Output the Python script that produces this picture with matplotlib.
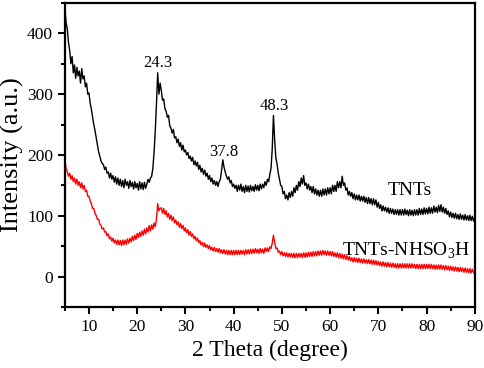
import numpy as np
import matplotlib
matplotlib.use("Agg")
import matplotlib.pyplot as plt
from matplotlib.ticker import MultipleLocator

plt.rcParams['font.family'] = ['Liberation Serif', 'DejaVu Serif']
plt.rcParams['mathtext.fontset'] = 'custom'
plt.rcParams['mathtext.rm'] = 'Liberation Serif'

# 2 theta grid, 0.25 degree step from 5 to 90
two_theta = np.arange(5, 90.001, 0.25)

# TNTs intensity, one row per degree (5, 5.25, 5.5, 5.75 ...)
tnts = [
    442, 418, 408, 385,
    372, 350, 362, 335,
    348, 326, 344, 330,
    338, 318, 342, 325,
    330, 312, 318, 300,
    302, 285, 275, 262,
    250, 240, 228, 215,
    205, 198, 190, 186,
    184, 176, 180, 170,
    172, 162, 170, 160,
    166, 155, 164, 152,
    162, 150, 160, 148,
    158, 146, 160, 150,
    156, 145, 158, 148,
    155, 144, 156, 146,
    153, 142, 156, 144,
    154, 143, 155, 145,
    152, 160, 155, 162,
    165, 178, 205, 240,
    285, 335, 300, 318,
    306, 290, 292, 276,
    272, 262, 265, 248,
    244, 236, 242, 228,
    230, 220, 226, 214,
    220, 208, 216, 205,
    208, 200, 204, 194,
    198, 190, 196, 184,
    190, 182, 188, 176,
    183, 172, 178, 168,
    175, 165, 170, 160,
    166, 156, 162, 152,
    158, 150, 156, 148,
    156, 160, 175, 192,
    180, 172, 165, 160,
    164, 154, 158, 148,
    152, 145, 150, 140,
    150, 142, 152, 140,
    148, 138, 150, 140,
    149, 139, 150, 141,
    148, 140, 151, 142,
    150, 141, 152, 144,
    152, 146, 156, 150,
    160, 156, 168, 178,
    210, 265, 225, 195,
    185, 170, 160, 150,
    148, 136, 140, 128,
    134, 126, 138, 130,
    140, 132, 146, 138,
    150, 142, 156, 148,
    162, 152, 166, 150,
    154, 144, 152, 142,
    148, 138, 148, 136,
    144, 134, 142, 132,
    142, 132, 144, 134,
    144, 134, 146, 136,
    146, 136, 150, 140,
    150, 140, 156, 146,
    156, 146, 165, 150,
    154, 142, 146, 134,
    140, 132, 138, 128,
    136, 126, 134, 126,
    134, 124, 132, 124,
    132, 122, 130, 120,
    130, 120, 128, 118,
    128, 118, 126, 114,
    122, 112, 118, 108,
    116, 108, 114, 106,
    113, 104, 112, 104,
    111, 102, 110, 102,
    110, 101, 110, 101,
    110, 101, 111, 102,
    109, 100, 110, 101,
    109, 100, 110, 101,
    110, 101, 112, 102,
    111, 102, 113, 103,
    112, 103, 114, 104,
    113, 104, 116, 106,
    114, 105, 117, 107,
    118, 106, 114, 104,
    112, 102, 108, 98,
    106, 97, 104, 96,
    104, 95, 102, 94,
    103, 94, 101, 93,
    102, 93, 100, 92,
    101, 92, 99, 91,
    97,
]

# TNTs-NHSO3H intensity, same grid
tnts_so3h = [
    192, 178, 172, 165,
    170, 160, 166, 156,
    162, 152, 160, 150,
    156, 146, 154, 144,
    150, 140, 142, 132,
    132, 124, 120, 112,
    112, 104, 100, 94,
    94, 86, 84, 78,
    80, 73, 74, 67,
    70, 62, 65, 58,
    63, 55, 60, 53,
    60, 52, 59, 51,
    60, 52, 60, 53,
    62, 55, 63, 57,
    66, 59, 68, 61,
    71, 64, 73, 66,
    75, 68, 78, 70,
    80, 73, 84, 75,
    85, 78, 88, 82,
    95, 120, 108, 112,
    113, 104, 112, 102,
    108, 98, 104, 94,
    101, 92, 98, 88,
    93, 85, 90, 81,
    87, 79, 84, 75,
    80, 72, 77, 68,
    74, 66, 70, 62,
    66, 59, 63, 56,
    59, 52, 56, 49,
    55, 48, 52, 46,
    51, 44, 48, 42,
    48, 41, 46, 40,
    46, 39, 44, 38,
    44, 37, 43, 36,
    43, 36, 43, 36,
    43, 36, 43, 36,
    43, 36, 43, 37,
    43, 36, 44, 37,
    44, 37, 45, 38,
    45, 38, 46, 39,
    45, 38, 46, 39,
    45, 38, 47, 41,
    47, 41, 49, 46,
    55, 68, 56, 46,
    47, 40, 42, 36,
    41, 34, 39, 33,
    39, 32, 38, 32,
    38, 31, 38, 31,
    38, 31, 38, 32,
    38, 31, 39, 32,
    39, 32, 40, 33,
    40, 33, 41, 34,
    41, 34, 42, 35,
    42, 35, 43, 36,
    42, 35, 42, 35,
    41, 34, 41, 33,
    39, 32, 39, 31,
    38, 30, 37, 29,
    36, 28, 34, 27,
    33, 26, 31, 24,
    31, 24, 30, 23,
    30, 23, 29, 22,
    29, 22, 28, 21,
    28, 21, 27, 20,
    27, 20, 26, 19,
    25, 18, 24, 17,
    24, 17, 23, 16,
    23, 16, 22, 15,
    22, 15, 21, 14,
    21, 14, 21, 14,
    21, 14, 21, 14,
    21, 14, 21, 14,
    21, 14, 20, 13,
    20, 13, 20, 13,
    20, 13, 20, 13,
    20, 13, 20, 13,
    20, 13, 19, 12,
    19, 12, 19, 12,
    19, 12, 18, 11,
    18, 11, 17, 10,
    17, 10, 16, 9,
    16, 9, 15, 8,
    15, 8, 14, 7,
    14, 7, 13, 6,
    13, 6, 12, 6,
    10,
]

peak_pos = [24.2, 37.9, 48.4]
peak_text = ["24.3", "37.8", "48.3"]
peak_label_y = [352, 204, 281]

fig = plt.figure(figsize=(4.84, 3.68), dpi=100)
ax = fig.add_axes([0.134, 0.166, 0.847, 0.826])

ax.plot(two_theta, tnts, color="black", lw=1.0)
ax.plot(two_theta, tnts_so3h, color="#ff0000", lw=1.0)

for p, t, yy in zip(peak_pos, peak_text, peak_label_y):
    ax.text(p, yy, t, ha="center", va="center", fontsize=12)

ax.text(76.6, 142, "TNTs", ha="center", va="center", fontsize=14)
ax.text(75.8, 43, r"TNTs-NHSO$_3$H", ha="center", va="center", fontsize=14)

ax.set_xlim(5, 90)
ax.set_ylim(-50, 450)
ax.xaxis.set_major_locator(MultipleLocator(10))
ax.xaxis.set_minor_locator(MultipleLocator(5))
ax.yaxis.set_major_locator(MultipleLocator(100))
ax.yaxis.set_minor_locator(MultipleLocator(50))
ax.tick_params(which="both", direction="out", width=1.5, labelsize=12.5, top=False, right=False)
ax.tick_params(which="major", length=5)
ax.tick_params(which="minor", length=3)
for s in ax.spines.values():
    s.set_linewidth(1.6)

ax.set_xlabel("2 Theta (degree)", fontsize=17, labelpad=4)
ax.set_ylabel("Intensity (a.u.)", fontsize=19, labelpad=2)

fig.savefig("out.png", dpi=100)
